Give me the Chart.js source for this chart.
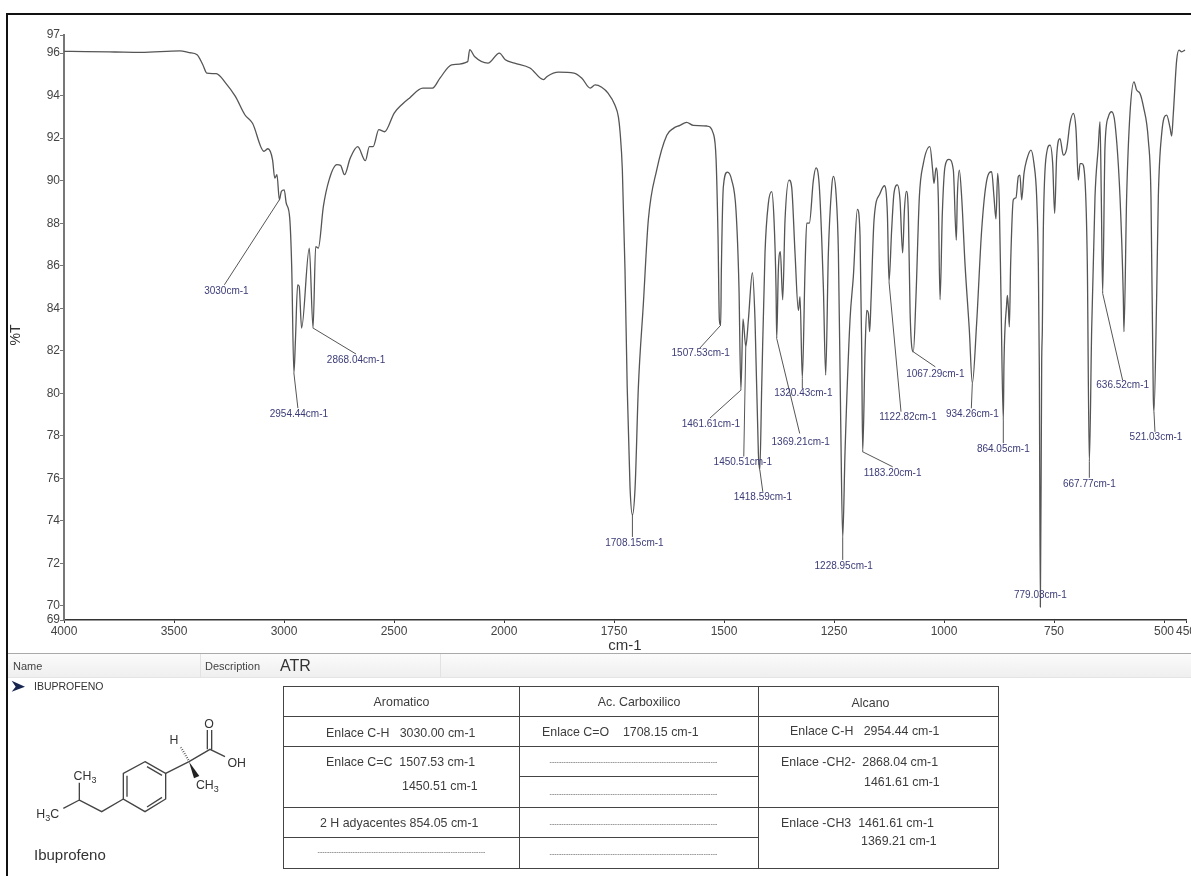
<!DOCTYPE html>
<html>
<head>
<meta charset="utf-8">
<title>IBUPROFENO</title>
<script src="https://cdn.jsdelivr.net/npm/chart.js@4/dist/chart.umd.min.js"></script>
<style>
    html, body { margin: 0; padding: 0; background: #fff; }
    body { position: relative; width: 1191px; height: 876px; overflow: hidden; font-family: "Liberation Sans", Arial, sans-serif; color: #333; }
    #spectrum { position: absolute; left: 0; top: 0; }
    #frame { position: absolute; left: 6px; top: 13px; right: -5px; bottom: -5px; border-top: 2.5px solid #111; border-left: 2px solid #111; }
    #header { position: absolute; left: 8px; right: 0; top: 653px; height: 23px; border-top: 1px solid #aaa; border-bottom: 1px solid #e4e4e4; background: linear-gradient(#fbfbfb, #efefef); font-size: 11px; line-height: 24px; color: #444; }
    #header span { position: absolute; top: 0; }
    #header .sep { top: 0; width: 1px; height: 23px; background: #e2e2e2; }
    #atr { font-size: 16px; color: #333; }
    #sample { position: absolute; left: 34px; top: 680px; font-size: 10.5px; color: #333; }
    #molecule { position: absolute; left: 0; top: 590px; }
    #name { position: absolute; left: 34px; top: 846px; font-size: 15px; color: #333; }
    #groups { position: absolute; left: 283px; top: 686px; width: 715px; border-collapse: collapse; table-layout: fixed; font-size: 12.4px; color: #3c3c3c; }
    #groups td { border: 1px solid #444; padding: 0; text-align: center; vertical-align: middle; white-space: pre; overflow: hidden; }
    #groups td.left { text-align: left; }
    #groups td.top { vertical-align: top; text-align: left; }
    #groups .line { display: block; }
    #groups td.dash { font-size: 7px; color: #555; }
</style>
</head>
<body>
<canvas id="spectrum" width="1191" height="655"></canvas>
<div id="frame"></div>

<div id="header">
    <span style="left:5px">Name</span>
    <span class="sep" style="left:192px"></span>
    <span style="left:197px">Description</span>
    <span id="atr" style="left:272px">ATR</span>
    <span class="sep" style="left:432px"></span>
</div>
<div id="sample">IBUPROFENO</div>

<svg id="molecule" width="260" height="286" viewBox="0 0 780 858">
    <polygon points="35,272 75,290 35,305 47,290" fill="#16264f"/>
    <g fill="none" stroke="#444" stroke-width="4">
        <polygon points="435,515 497,550 497,627 435,665 370,627 370,550"/>
        <path d="M381,557 V620 M441,530 L486,556 M441,651 L486,622"/>
        <path d="M370,627 L305,665 L238,630 V578 M238,630 L190,655"/>
        <path d="M497,550 L567,515 L630,478 L675,500 M622,478 V420 M635,478 V420"/>
    </g>
    <polygon points="567,515 598,558 582,565" fill="#222"/>
    <path d="M565,510 L540,468" stroke="#444" stroke-width="7" stroke-dasharray="2 5" fill="none"/>
    <g font-family="Liberation Sans, sans-serif" font-size="37" fill="#333" text-anchor="middle">
        <text x="627" y="413">O</text>
        <text x="710" y="531">OH</text>
        <text x="522" y="462">H</text>
        <text x="622" y="596">CH<tspan font-size="27" dy="9">3</tspan></text>
        <text x="255" y="570">CH<tspan font-size="27" dy="9">3</tspan></text>
        <text x="143" y="684">H<tspan font-size="27" dy="9">3</tspan><tspan dy="-9">C</tspan></text>
    </g>
</svg>
<div id="name">Ibuprofeno</div>

<table id="groups">
    <colgroup><col style="width:236px"><col style="width:239px"><col style="width:240px"></colgroup>
    <tr style="height:30px"><td>Aromatico</td><td>Ac. Carboxilico</td><td style="padding:3px 16px 0 0">Alcano</td></tr>
    <tr style="height:30px">
        <td class="left" style="padding:2px 0 0 42px">Enlace C-H   3030.00 cm-1</td>
        <td class="left" style="padding:1px 0 0 22px">Enlace C=O    1708.15 cm-1</td>
        <td class="left" style="padding:0 0 2px 31px">Enlace C-H   2954.44 cm-1</td>
    </tr>
    <tr style="height:30px">
        <td class="top" rowspan="2" style="padding:3px 0 0 42px;line-height:24px"><span class="line">Enlace C=C  1507.53 cm-1</span><span class="line" style="padding-left:76px">1450.51 cm-1</span></td>
        <td class="dash" style="padding-right:11px">------------------------------------------------------------------------</td>
        <td class="top" rowspan="2" style="padding:5px 0 0 22px;line-height:20px"><span class="line">Enlace -CH2-  2868.04 cm-1</span><span class="line" style="padding-left:83px">1461.61 cm-1</span></td>
    </tr>
    <tr style="height:31px"><td class="dash" style="padding:2px 11px 0 0">------------------------------------------------------------------------</td></tr>
    <tr style="height:30px">
        <td class="left" style="padding:0 0 0 36px">2 H adyacentes 854.05 cm-1</td>
        <td class="dash" style="padding:2px 11px 0 0">------------------------------------------------------------------------</td>
        <td class="top" rowspan="2" style="padding:6px 0 0 22px;line-height:18px"><span class="line">Enlace -CH3  1461.61 cm-1</span><span class="line" style="padding-left:80px">1369.21 cm-1</span></td>
    </tr>
    <tr style="height:31px">
        <td class="dash" style="padding-bottom:3px">------------------------------------------------------------------------</td>
        <td class="dash" style="padding-right:11px">------------------------------------------------------------------------</td>
    </tr>
</table>

<script>
// spectrum, wavenumber (cm-1) and %T
const wavenumbers = [
    4000, 3900, 3769, 3650, 3473, 3430, 3395, 3369, 3351, 3308, 3265, 3221, 3178, 3143, 3091, 3073, 3052, 3042, 3032, 3021,
    3012, 2999, 2990, 2974, 2965, 2955, 2948, 2938, 2931, 2920, 2885, 2868, 2856, 2844, 2821, 2795, 2760, 2743, 2725, 2699,
    2665, 2630, 2612, 2595, 2569, 2543, 2499, 2465, 2430, 2369, 2325, 2291, 2238, 2165, 2156, 2134, 2073, 2021, 1997, 1976,
    1941, 1910, 1902, 1876, 1841, 1823, 1804, 1793, 1778, 1763, 1748, 1740, 1736, 1731, 1725, 1720, 1713.6, 1708.15, 1702, 1694.6,
    1683.3, 1672, 1653, 1630, 1615, 1600, 1585, 1569.6, 1539, 1524, 1518, 1513.6, 1510.5, 1507.53, 1506, 1501.5, 1492.4, 1482.5, 1472.7, 1466,
    1461.61, 1456.8, 1450.51, 1444.6, 1435.5, 1429.5, 1421.9, 1418.59, 1414.3, 1406.8, 1399.2, 1391.6, 1386.3, 1381.8, 1380.2, 1376.5, 1371.9, 1366.6, 1361.3, 1352.2,
    1346.2, 1338.6, 1331, 1327.2, 1322, 1315.9, 1312, 1306, 1297, 1290.8, 1283.3, 1274.2, 1268.9, 1262.8, 1255.2, 1251.5, 1245.4, 1240, 1234.8, 1230.2,
    1225, 1213.6, 1206, 1196.9, 1190.8, 1187, 1184.8, 1179.5, 1175.7, 1171.9, 1168.9, 1165.8, 1159, 1145.4, 1135.5, 1128.7, 1125, 1119, 1113.7, 1106,
    1100, 1094, 1090, 1085.6, 1081, 1077, 1069.7, 1063.7, 1056, 1047, 1032, 1025.8, 1022.8, 1018, 1013, 1009, 1003.8, 997.8, 988.7, 978.8,
    972, 969.7, 965.2, 959.9, 952.3, 942.5, 935.6, 925.8, 914.4, 903, 891.7, 886.4, 881.9, 878, 874.3, 870.5, 865.2, 863.7, 857.6, 856,
    853.8, 851.5, 848.5, 842.5, 836.4, 831.1, 827.3, 823.5, 818.2, 812.2, 802.3, 795.5, 789.4, 785.6, 783.4, 781, 778, 776.5, 774.3, 766.7,
    759, 753, 748.5, 744, 736.4, 728.8, 721.2, 713.7, 706.1, 700, 694.7, 690.9, 686.4, 679.6, 674.3, 669.7, 664.4, 656.8, 649.3, 645.5,
    642.5, 639.4, 634.1, 626.5, 619, 611.4, 600, 592.5, 591, 584.9, 577.3, 568.2, 562.2, 554.6, 547, 535.6, 529.6, 524.3, 522.8, 516.7,
    512.9, 505.3, 494, 486.4, 482.6, 478.8, 471.2, 465.9, 459.9, 452.3
];
const transmittance = [
    96.08, 96.07, 96.05, 96.03, 96.1, 96.02, 95.92, 95.45, 95.06, 95.03, 94.59, 93.96, 93.1, 92.7, 91.38, 91.5, 90.98, 90.12, 90.28, 89.1,
    89.5, 89.57, 88.95, 88.24, 85.97, 80.95, 82.5, 85.1, 85.03, 83.07, 86.83, 83.07, 86.9, 86.83, 88.79, 90.04, 90.75, 90.72, 90.28, 91.06,
    91.6, 90.94, 91.6, 91.6, 92.4, 92.3, 93.18, 93.57, 93.88, 94.35, 94.35, 94.82, 95.45, 95.6, 96.16, 95.84, 95.53, 96, 95.69, 95.53,
    95.3, 94.75, 94.9, 95.1, 95.06, 94.82, 94.35, 94.5, 94.39, 94.1, 93.56, 93, 92.24, 90.5, 85.8, 80.3, 75.6, 74.28, 75.6, 80.3,
    84.2, 88.15, 90.5, 92.14, 92.46, 92.6, 92.74, 92.6, 92.57, 92.2, 91, 87.4, 83.45, 83.2, 85.8, 89.7, 90.4, 90.03, 88.6, 85,
    80.15, 83.5, 82.2, 83.45, 85.67, 83.45, 77.2, 76.4, 80.3, 86.6, 88.93, 89.48, 88.15, 85, 82.58, 85.8, 86.66, 84.4, 88.15, 90.03,
    89.7, 86.6, 83.9, 84.54, 80.7, 85.8, 88, 88, 90, 90.6, 89.7, 85, 80.86, 86.6, 89.7, 90.2, 89.4, 86.6, 78.74, 73.2,
    77.2, 83.45, 85.5, 88.65, 87.4, 81.9, 77.25, 81.9, 83.9, 83.76, 82.9, 84.4, 88.15, 89.4, 89.76, 88.46, 85.25, 87.68, 89.4, 89.8,
    89.1, 86.6, 88.6, 89.5, 88.46, 83.76, 81.95, 84.54, 89.24, 90.8, 91.6, 90.5, 89.87, 90.6, 89.24, 84.4, 88.46, 90.65, 91, 90.5,
    87.2, 89.24, 90.5, 89.24, 86.1, 83, 80.47, 83.3, 87.68, 90, 90.42, 89.24, 88.2, 90.34, 88.93, 84.54, 78.74, 81.4, 84.2, 84.6,
    84.07, 83.13, 86.1, 89.1, 89.2, 90.2, 90.26, 89.1, 90.34, 90.97, 91.44, 90.8, 89.24, 86.1, 81.4, 69.95, 81.4, 83, 87.68, 91.3,
    91.67, 90.8, 88.46, 91.12, 91.98, 91.2, 91.5, 92.69, 93.16, 92.4, 90.03, 90.8, 90.8, 90.03, 86.1, 76.78, 83, 89.24, 91.6, 92.77,
    89.24, 84.7, 91.6, 93, 93.24, 92.69, 89.24, 84.54, 82.9, 89.24, 93.16, 94.65, 94.26, 94.1, 93.5, 91.9, 89.24, 79.84, 79.13, 84.54,
    89.24, 92.2, 93.08, 92.5, 92.1, 93.16, 95.67, 96.14, 96.06, 96.14
];

const xTicks = [4000, 3500, 3000, 2500, 2000, 1750, 1500, 1250, 1000, 750, 500, 450];
const yTicks = [69.34, 70, 72, 74, 76, 78, 80, 82, 84, 86, 88, 90, 92, 94, 96, 96.85];
const yTickLabels = ["69", "70", "72", "74", "76", "78", "80", "82", "84", "86", "88", "90", "92", "94", "96", "97"];

// picked peaks
const peakText = ["3030cm-1", "2954.44cm-1", "2868.04cm-1", "1708.15cm-1", "1507.53cm-1", "1461.61cm-1", "1450.51cm-1", "1418.59cm-1", "1369.21cm-1", "1320.43cm-1",
    "1228.95cm-1", "1183.20cm-1", "1122.82cm-1", "1067.29cm-1", "934.26cm-1", "864.05cm-1", "779.03cm-1", "667.77cm-1", "636.52cm-1", "521.03cm-1"];
const peakWn = [3021, 2955, 2868, 1708.15, 1507.53, 1461.61, 1450.51, 1418.59, 1380.2, 1322, 1230.2, 1184.8, 1125, 1069.7, 935.6, 865.2, 781, 669.7, 639.4, 522.8];
const peakT = [89.1, 80.95, 83.07, 74.28, 83.2, 80.15, 82.2, 76.4, 82.58, 80.7, 73.2, 77.25, 85.25, 81.95, 80.47, 78.74, 69.95, 76.78, 84.7, 79.13];

// pixel offsets from each peak: end of the leader line, centre of the label
const leaderOffset = [[-55, 85], [4, 35], [43, 26], [0, 22], [-21, 23], [-31, 28], [-2, 110], [3, 22], [23, 95], [0, 10],
    [0, 22], [30, 15], [12, 130], [22, 15], [-1, 25], [0, 23], [0, 0], [0, 16], [20, 87], [1, 20]];
const labelOffset = [[-53, 91], [5, 41], [43, 32], [2, 28], [-20, 28], [-30, 34], [-3, 116], [3, 27], [24, 104], [1, 15],
    [1, 28], [30, 21], [19, 136], [22, 22], [0, 31], [0, 29], [0, -12], [0, 22], [20, 92], [2, 25]];

// IR axis: below 2000 cm-1 the scale is twice as wide
class FoldedAxis extends Chart.LinearScale {
    static id = 'foldedAxis';
    static defaults = Chart.LinearScale.defaults;

    fold(v) {
        return v >= 2000 ? 4000 - v : 2000 + (2000 - v) * 2;
    }
    getPixelForValue(v) {
        return this.left + this.fold(v) / this.fold(this.min) * this.width;
    }
    getValueForPixel(px) {
        const f = (px - this.left) / this.width * this.fold(this.min);
        return f <= 2000 ? 4000 - f : 2000 - (f - 2000) / 2;
    }
}
Chart.register(FoldedAxis);

const peakLabels = {
    id: 'peakLabels',
    afterDatasetsDraw(chart) {
        const ctx = chart.ctx;
        const xs = chart.scales.x;
        const ys = chart.scales.y;
        ctx.save();
        ctx.font = '10px "Liberation Sans"';
        ctx.textAlign = 'center';
        ctx.textBaseline = 'middle';
        peakText.forEach((text, i) => {
            const px = xs.getPixelForValue(peakWn[i]);
            const py = ys.getPixelForValue(peakT[i]);
            ctx.strokeStyle = '#555';
            ctx.lineWidth = 1;
            ctx.beginPath();
            ctx.moveTo(px, py);
            ctx.lineTo(px + leaderOffset[i][0], py + leaderOffset[i][1]);
            ctx.stroke();
            ctx.fillStyle = '#3b3b78';
            ctx.fillText(text, px + labelOffset[i][0], py + labelOffset[i][1]);
        });
        // %T sits a little below the middle of the axis
        ctx.translate(16, 335);
        ctx.rotate(-Math.PI / 2);
        ctx.font = '14px "Liberation Sans"';
        ctx.fillStyle = '#333';
        ctx.fillText('%T', 0, 0);
        ctx.restore();
    }
};

new Chart(document.getElementById('spectrum'), {
    type: 'line',
    data: {
        datasets: [{
            data: wavenumbers.map((w, i) => ({ x: w, y: transmittance[i] })),
            borderColor: '#555',
            borderWidth: 1.3,
            pointRadius: 0,
            cubicInterpolationMode: 'monotone'
        }]
    },
    plugins: [peakLabels],
    options: {
        responsive: false,
        animation: false,
        layout: { padding: { top: 35, right: 5, bottom: 0, left: 0 } },
        plugins: { legend: { display: false }, tooltip: { enabled: false } },
        scales: {
            x: {
                type: 'foldedAxis',
                min: 450,
                max: 4000,
                border: { color: '#333', width: 1.5 },
                grid: { drawOnChartArea: false, tickLength: 3, color: '#333' },
                afterBuildTicks: scale => { scale.ticks = xTicks.map(value => ({ value })); },
                afterFit: scale => { scale.height = 35; scale.paddingLeft = 0; scale.paddingRight = 0; },
                ticks: {
                    autoSkip: false,
                    maxRotation: 0,
                    padding: 1,
                    color: '#444',
                    font: { family: 'Liberation Sans', size: 12 },
                    callback: value => String(value)
                },
                title: { display: true, text: 'cm-1', color: '#333', font: { family: 'Liberation Sans', size: 15 }, padding: 0 }
            },
            y: {
                min: 69.34,
                max: 96.85,
                border: { color: '#777', width: 2 },
                grid: { drawOnChartArea: false, tickLength: 4, color: '#777' },
                afterBuildTicks: scale => { scale.ticks = yTicks.map(value => ({ value })); },
                afterFit: scale => { scale.width = 64; scale.paddingTop = 0; scale.paddingBottom = 0; },
                ticks: {
                    autoSkip: false,
                    padding: 0,
                    color: '#444',
                    font: { family: 'Liberation Sans', size: 12 },
                    callback: (value, index) => yTickLabels[index]
                }
            }
        }
    }
});
</script>
</body>
</html>
